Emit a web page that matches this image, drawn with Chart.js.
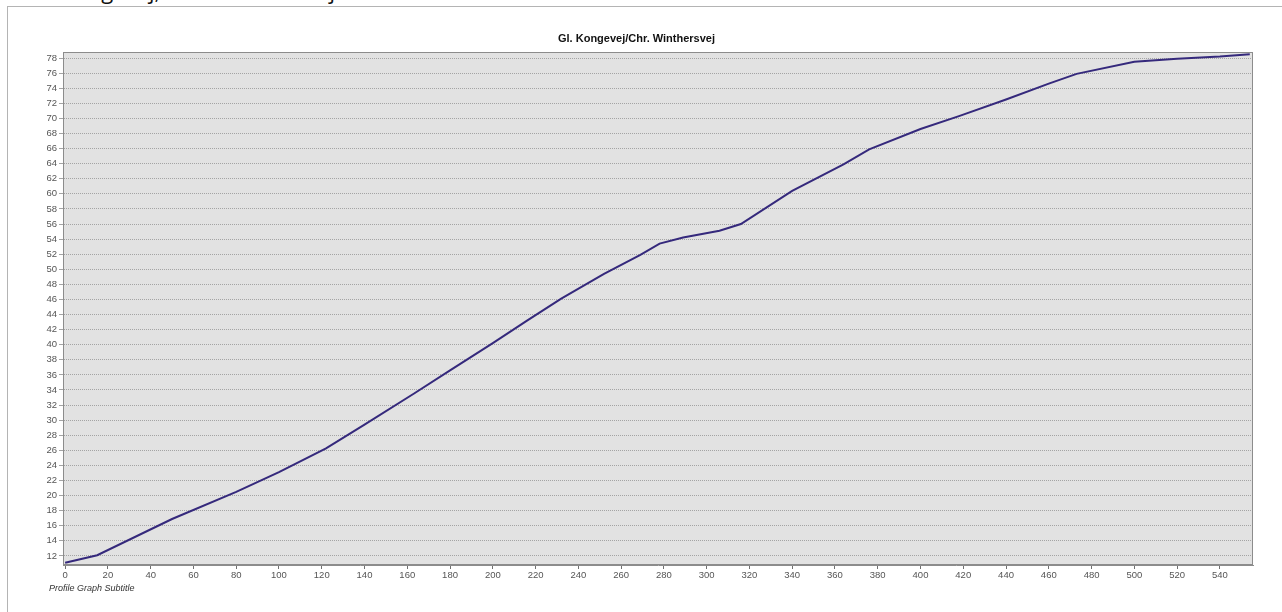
<!DOCTYPE html>
<html>
<head>
<meta charset="utf-8">
<script src="https://cdn.jsdelivr.net/npm/chart.js@4.4.1/dist/chart.umd.min.js"></script>
<style>
  html, body { margin: 0; padding: 0; background: #ffffff; width: 1282px; height: 612px; overflow: hidden; }
  #wrap { position: absolute; left: 0; top: 0; width: 1282px; height: 612px; }
  #frame { position: absolute; left: 7px; top: 6px; width: 1290px; height: 620px; border-left: 1px solid #b4b4b4; border-top: 1px solid #b4b4b4; }
  #pageTitle { position: absolute; left: 28px; top: -21px; font: 22px "Open Sans", sans-serif; color: #111; white-space: nowrap; line-height: 22px; }
  #sub { position: absolute; left: 49px; top: 583px; font: italic 9px "Liberation Sans", Arial, sans-serif; color: #333; white-space: nowrap; }
  canvas { position: absolute; left: 0; top: 0; }
</style>
</head>
<body>
<div id="wrap">
  <div id="pageTitle">Gl. Kongevej, Chr. Winthersvej</div>
  <div id="frame"></div>
  <canvas id="c" width="1282" height="612"></canvas>
  <div id="sub">Profile Graph Subtitle</div>
</div>
<script>
// Distance along profile (m)
const distances = [0, 15, 50, 80, 100, 122, 140, 163, 180, 200, 216, 232, 252, 269, 278, 289, 306, 316, 340, 364, 376, 400, 418, 440, 460, 473, 500, 520, 540, 554];
// Elevation values
const elevations = [11.1, 12.1, 16.9, 20.5, 23.1, 26.25, 29.4, 33.5, 36.6, 40.2, 43.2, 46.1, 49.4, 51.9, 53.4, 54.2, 55.1, 56.0, 60.4, 63.9, 65.9, 68.6, 70.3, 72.5, 74.6, 75.9, 77.5, 77.9, 78.2, 78.5];
// Tick labels
const xTicks = [0,20,40,60,80,100,120,140,160,180,200,220,240,260,280,300,320,340,360,380,400,420,440,460,480,500,520,540];
const yTicks = [12,14,16,18,20,22,24,26,28,30,32,34,36,38,40,42,44,46,48,50,52,54,56,58,60,62,64,66,68,70,72,74,76,78];
const chartTitle = 'Gl. Kongevej/Chr. Winthersvej';

const points = distances.map((d, i) => ({ x: d, y: elevations[i] }));

const plotBg = {
  id: 'plotBg',
  beforeDraw(chart) {
    const { ctx, chartArea: a } = chart;
    ctx.save();
    ctx.fillStyle = '#e2e2e2';
    ctx.fillRect(a.left, a.top, a.right - a.left, a.bottom - a.top);
    ctx.restore();
  },
  afterDatasetsDraw(chart) {
    const { ctx, chartArea: a } = chart;
    ctx.save();
    ctx.strokeStyle = '#8c8c8c';
    ctx.lineWidth = 1;
    ctx.strokeRect(Math.round(a.left) + 0.5, Math.round(a.top) + 0.5, Math.round(a.right - a.left) - 1, Math.round(a.bottom - a.top) - 1);
    ctx.restore();
  }
};

const tickFont = { family: '"Liberation Sans", Arial, sans-serif', size: 9.5 };

new Chart(document.getElementById('c'), {
  type: 'line',
  data: {
    datasets: [{
      data: points,
      borderColor: '#35297c',
      borderWidth: 2,
      pointRadius: 0,
      tension: 0,
      fill: false
    }]
  },
  options: {
    responsive: false,
    animation: false,
    layout: { padding: { left: 20, right: 29, top: 0, bottom: 27 } },
    plugins: {
      legend: { display: false },
      tooltip: { enabled: false },
      title: {
        display: true,
        text: chartTitle,
        color: '#111',
        font: { family: '"Liberation Sans", Arial, sans-serif', size: 11, weight: 'bold', lineHeight: 1.2 },
        padding: { top: 32, bottom: 6.8 }
      }
    },
    scales: {
      x: {
        type: 'linear',
        min: -1,
        max: 555.5,
        afterBuildTicks(axis) { axis.ticks = xTicks.map(v => ({ value: v })); },
        afterFit(axis) { axis.height = 20; },
        grid: { display: true, drawOnChartArea: false, drawTicks: true, tickLength: 4, color: '#707070' },
        border: { display: true, color: '#8c8c8c' },
        ticks: { color: '#555', font: tickFont, padding: 1, maxRotation: 0, autoSkip: false }
      },
      y: {
        type: 'linear',
        min: 10.8,
        max: 78.8,
        afterBuildTicks(axis) { axis.ticks = yTicks.map(v => ({ value: v })); },
        afterFit(axis) { axis.width = 43; },
        grid: { display: true, drawOnChartArea: true, drawTicks: true, tickLength: 4, color: '#a4a4a4', lineWidth: 1 },
        border: { display: true, color: '#8c8c8c', dash: [1, 1] },
        ticks: { color: '#555', font: tickFont, padding: 2, autoSkip: false }
      }
    }
  },
  plugins: [plotBg]
});
</script>
</body>
</html>
